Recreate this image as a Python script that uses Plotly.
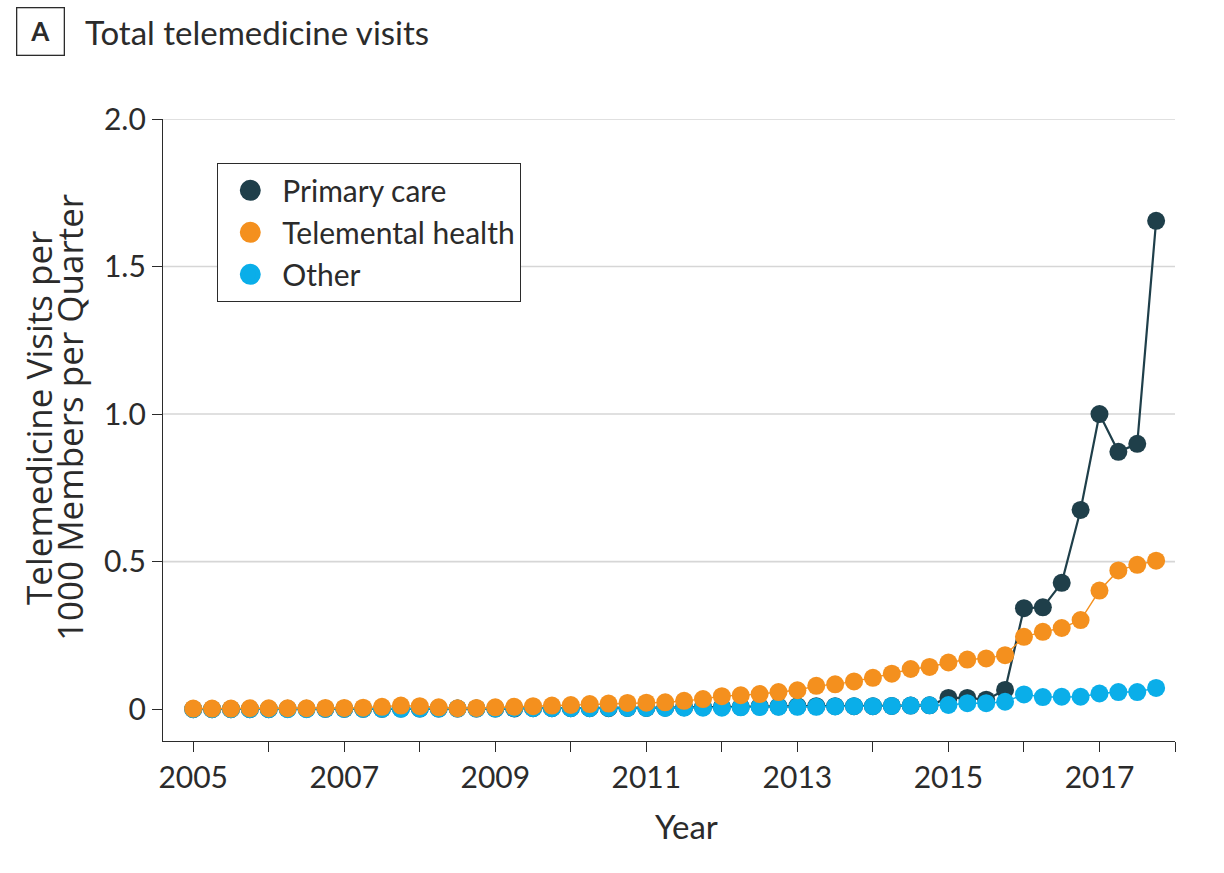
import plotly.graph_objects as go

# Quarterly series, 2005 Q1 through 2017 Q4
quarters = [2005 + q / 4 for q in range(52)]

primary_care = [
    0.000, 0.000, 0.000, 0.000,
    0.000, 0.001, 0.001, 0.001,
    0.001, 0.001, 0.001, 0.002,
    0.002, 0.002, 0.002, 0.002,
    0.002, 0.002, 0.003, 0.003,
    0.003, 0.003, 0.003, 0.004,
    0.004, 0.005, 0.006, 0.007,
    0.008, 0.008, 0.009, 0.009,
    0.010, 0.010, 0.010, 0.010,
    0.010, 0.011, 0.012, 0.013,
    0.038, 0.038, 0.032, 0.065,
    0.342, 0.345, 0.428, 0.675,
    1.000, 0.872, 0.899, 1.655,
]

telemental_health = [
    0.002, 0.002, 0.002, 0.003,
    0.003, 0.003, 0.003, 0.004,
    0.004, 0.005, 0.008, 0.012,
    0.010, 0.006, 0.003, 0.004,
    0.006, 0.008, 0.010, 0.012,
    0.014, 0.017, 0.019, 0.021,
    0.022, 0.023, 0.028, 0.034,
    0.044, 0.047, 0.051, 0.058,
    0.064, 0.079, 0.084, 0.094,
    0.106, 0.120, 0.136, 0.143,
    0.158, 0.168, 0.172, 0.183,
    0.245, 0.262, 0.275, 0.302,
    0.402, 0.470, 0.489, 0.503,
]

other = [
    0.000, 0.000, 0.000, 0.000,
    0.000, 0.000, 0.000, 0.001,
    0.001, 0.001, 0.001, 0.001,
    0.002, 0.002, 0.002, 0.002,
    0.002, 0.003, 0.003, 0.003,
    0.003, 0.003, 0.004, 0.004,
    0.004, 0.004, 0.005, 0.005,
    0.005, 0.006, 0.007, 0.008,
    0.008, 0.008, 0.009, 0.010,
    0.010, 0.011, 0.012, 0.013,
    0.014, 0.020, 0.020, 0.025,
    0.050, 0.041, 0.042, 0.042,
    0.053, 0.058, 0.058, 0.072,
]

series_names = ["Primary care", "Telemental health", "Other"]
series_colors = ["#1f3f4a", "#f4901e", "#0aaee9"]

year_ticks = list(range(2005, 2019))
year_labels = [str(y) if y % 2 == 1 and y < 2018 else "" for y in year_ticks]
value_ticks = [0, 0.5, 1.0, 1.5, 2.0]
value_labels = ["0", "0.5", "1.0", "1.5", "2.0"]
grid_values = [0.5, 1.0, 1.5, 2.0]

FONT = "Lato, Open Sans, sans-serif"
YTITLE_FONT = "Open Sans, Lato, sans-serif"
INK = "#2b2b2b"

W, H = 1224, 873
L, R, T, B = 163, 49, 119, 132
PW, PH = W - L - R, H - T - B


def px(x, y):
    """Pixel position on the page -> paper coordinates."""
    return (x - L) / PW, (H - B - y) / PH


fig = go.Figure()

# drawing order: primary care underneath, then other, telemental on top
draw_order = [(primary_care, 0, 2.2), (other, 2, 1.4), (telemental_health, 1, 1.4)]
for values, idx, lw in draw_order:
    fig.add_trace(go.Scatter(
        x=quarters, y=values, mode="lines+markers",
        line=dict(color=series_colors[idx], width=lw),
        marker=dict(color=series_colors[idx], size=18),
        showlegend=False, hoverinfo="skip",
    ))

# legend entries: dot only
for name, color in zip(series_names, series_colors):
    fig.add_trace(go.Scatter(
        x=[None], y=[None], mode="markers", name=name,
        marker=dict(color=color, size=16, line=dict(color=color, width=5)),
    ))

for g in grid_values:
    fig.add_hline(y=g, line=dict(color="#d6d6d6", width=1.6), layer="below")

axis_common = dict(
    showline=True, linecolor=INK, linewidth=1.3,
    ticks="outside", ticklen=10, tickwidth=1.3, tickcolor=INK,
    showgrid=False, zeroline=False,
    tickfont=dict(family=FONT, size=30, color=INK),
)

fig.update_xaxes(range=[2004.6, 2018.0], tickmode="array",
                 tickvals=year_ticks, ticktext=year_labels, **axis_common)
fig.update_yaxes(range=[-0.108, 2.0], tickmode="array",
                 tickvals=value_ticks, ticktext=value_labels, **axis_common)

annotations = []
ax, ay = px(40, 31)
annotations.append(dict(
    x=ax, y=ay, xref="paper", yref="paper", text="<b>A</b>", showarrow=False,
    xanchor="center", yanchor="middle",
    font=dict(family=FONT, size=26, color=INK),
    bordercolor=INK, borderwidth=1.3, borderpad=7, width=32,
))
tx, ty = px(83, 32)
annotations.append(dict(
    x=tx, y=ty, xref="paper", yref="paper", text="Total telemedicine visits",
    showarrow=False, xanchor="left", yanchor="middle",
    font=dict(family=FONT, size=33, color=INK),
))
for text, cx in [("Telemedicine Visits per", 38), ("1000 Members per Quarter", 69)]:
    yx, yy = px(cx, 418)
    annotations.append(dict(
        x=yx, y=yy, xref="paper", yref="paper", text=text, showarrow=False,
        textangle=-90, xanchor="center", yanchor="middle",
        font=dict(family=YTITLE_FONT, size=35, color=INK),
    ))
xx, xy = px(686, 826)
annotations.append(dict(
    x=xx, y=xy, xref="paper", yref="paper", text="Year", showarrow=False,
    xanchor="center", yanchor="middle",
    font=dict(family=FONT, size=33, color=INK),
))

lx, ly = px(217, 163)
fig.update_layout(
    width=W, height=H, autosize=False,
    margin=dict(l=L, r=R, t=T, b=B),
    paper_bgcolor="white", plot_bgcolor="white",
    annotations=annotations,
    legend=dict(
        x=lx, y=ly, xanchor="left", yanchor="top",
        bordercolor=INK, borderwidth=1.3, bgcolor="white",
        font=dict(family=FONT, size=30, color=INK),
        itemsizing="trace", itemwidth=54, tracegroupgap=0,
    ),
)

fig.write_html("out.html")
